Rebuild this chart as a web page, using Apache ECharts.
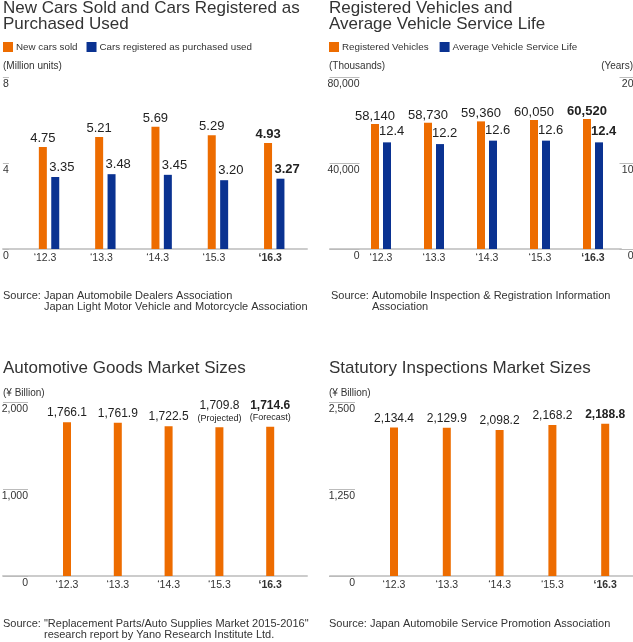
<!DOCTYPE html>
<html>
<head>
<meta charset="utf-8">
<script src="https://cdn.jsdelivr.net/npm/echarts@6/dist/echarts.min.js"></script>
<style>html,body{margin:0;padding:0;background:#fff}#c{width:633px;height:642px}</style>
</head>
<body>
<div id="c"></div>
<script>
// ---- data ----
const categories = ['\u201812.3', '\u201813.3', '\u201814.3', '\u201815.3', '\u201816.3'];
const newCarsSold = [4.75, 5.21, 5.69, 5.29, 4.93];
const usedRegistered = [3.35, 3.48, 3.45, 3.20, 3.27];
const registeredVehicles = [58140, 58730, 59360, 60050, 60520];
const serviceLife = [12.4, 12.2, 12.6, 12.6, 12.4];
const goodsMarket = [1766.1, 1761.9, 1722.5, 1709.8, 1714.6];
const goodsNotes = ['', '', '', '(Projected)', '(Forecast)'];
const inspectionMarket = [2134.4, 2129.9, 2098.2, 2168.2, 2188.8];
const axis1 = {max: 8, interval: 4};
const axis2L = {max: 80000, interval: 40000};
const axis2R = {max: 20, interval: 10};
const axis3 = {max: 2000, interval: 1000};
const axis4 = {max: 2500, interval: 1250};

// ---- style ----
const FONT = '"Liberation Sans", Arial, Helvetica, sans-serif';
const ORANGE = '#ED6C00';
const BLUE = '#0A3291';
const TXT = '#333';
const LBL = '#222';
const boldLast = 4;

function fmt(v, d) {
  return v.toLocaleString('en-US', {minimumFractionDigits: d, maximumFractionDigits: d});
}
function withBold(arr) {
  return arr.map((v, i) => i === boldLast ? {value: v, label: {fontWeight: 'bold'}} : v);
}
function catData() {
  return categories.map((c, i) => i === boldLast ? {value: c, textStyle: {fontWeight: 'bold'}} : c);
}

const chart = echarts.init(document.getElementById('c'), null, {renderer: 'canvas'});

function title(text, pos, fs, lh) {
  return Object.assign({
    text: text, padding: 0, itemGap: 0,
    textStyle: {fontSize: fs, fontFamily: FONT, fontWeight: 'normal', color: TXT, lineHeight: lh}
  }, pos);
}
function sourceTitle(l1, l2, pos) {
  return Object.assign({
    text: '{a|Source: ' + l1 + '}\n{h|Source: }{a|' + l2 + '}', padding: 0,
    textStyle: {
      fontWeight: 'normal',
      rich: {
        a: {fontSize: 11, fontFamily: FONT, fontWeight: 'normal', color: TXT, lineHeight: 11.5},
        h: {fontSize: 11, fontFamily: FONT, fontWeight: 'normal', color: 'rgba(0,0,0,0)', lineHeight: 11.5}
      }
    }
  }, pos);
}

const catAxis = (gi, extra) => Object.assign({
  type: 'category', gridIndex: gi, data: catData(),
  axisLine: {show: false}, axisTick: {show: false},
  axisLabel: {margin: 4, fontSize: 10.5, fontFamily: FONT, color: TXT}
}, extra || {});

const valAxis = (gi, cfg, pos, offset, tickLen, margin, formatter) => ({
  type: 'value', gridIndex: gi, min: 0, max: cfg.max, interval: cfg.interval,
  position: pos, offset: offset,
  axisLine: {show: false},
  axisTick: {show: true, length: tickLen, lineStyle: {color: '#bbb', width: 1}},
  splitLine: {show: false},
  axisLabel: {
    margin: margin, align: 'right', verticalAlign: 'top', padding: [2, 0, 0, 0],
    fontSize: 10.5, fontFamily: FONT, color: TXT, formatter: formatter
  }
});

const baseX = (gi) => ({
  type: 'category', gridIndex: gi, data: [''],
  axisLine: {show: true, lineStyle: {color: '#ccc', width: 2}},
  axisTick: {show: false}, axisLabel: {show: false}
});
const baseY = (gi) => ({type: 'value', gridIndex: gi, show: false, min: 0, max: 1});

const valLabel = (fs, dist, extra) => Object.assign({
  show: true, position: 'top', distance: dist,
  fontSize: fs, fontFamily: FONT, color: LBL
}, extra || {});

const grid = (l, t, w, h) => ({left: l, top: t, width: w, height: h, containLabel: false, outerBoundsMode: 'none'});

const option = {
  animation: false,
  backgroundColor: '#fff',
  title: [
    title('New Cars Sold and Cars Registered as\nPurchased Used', {left: 3, top: 0}, 17, 16.5),
    title('Registered Vehicles and\nAverage Vehicle Service Life', {left: 329, top: 0}, 17, 16.5),
    title('Automotive Goods Market Sizes', {left: 3, top: 360}, 17, 16.5),
    title('Statutory Inspections Market Sizes', {left: 329, top: 360}, 17, 16.5),
    title('(Million units)', {left: 3, top: 60}, 10, 12),
    title('(Thousands)', {left: 329, top: 60}, 10, 12),
    title('(Years)', {right: 0, top: 60}, 10, 12),
    title('(\u00a5 Billion)', {left: 3, top: 387}, 10, 12),
    title('(\u00a5 Billion)', {left: 329, top: 387}, 10, 12),
    sourceTitle('Japan Automobile Dealers Association', 'Japan Light Motor Vehicle and Motorcycle Association', {left: 3, top: 290}),
    sourceTitle('Automobile Inspection & Registration Information', 'Association', {left: 331, top: 290}),
    sourceTitle('"Replacement Parts/Auto Supplies Market 2015-2016"', 'research report by Yano Research Institute Ltd.', {left: 3, top: 618}),
    title('Source: Japan Automobile Service Promotion Association', {left: 329, top: 618}, 11, 11.5)
  ],
  legend: [
    {data: ['New cars sold', 'Cars registered as purchased used'], left: 3, top: 42, padding: 0,
     itemWidth: 10, itemHeight: 10, itemGap: 9, icon: 'rect', selectedMode: false,
     textStyle: {fontSize: 9.8, fontFamily: FONT, color: TXT, padding: [0, 0, 0, -2]}},
    {data: ['Registered Vehicles', 'Average Vehicle Service Life'], left: 329, top: 42, padding: 0,
     itemWidth: 10, itemHeight: 10, itemGap: 11, icon: 'rect', selectedMode: false,
     textStyle: {fontSize: 9.8, fontFamily: FONT, color: TXT, padding: [0, 0, 0, -2]}}
  ],
  grid: [
    grid(20.9, 77, 281.5, 172),
    grid(354.5, 77, 265, 172),
    grid(41.6, 402, 254, 174),
    grid(367.6, 402, 264, 174),
    grid(3, 229, 304, 20),
    grid(330, 229, 291, 20),
    grid(3, 556, 304, 20),
    grid(330, 556, 303, 20)
  ],
  xAxis: [
    catAxis(0, {axisLabel: {margin: 4, fontSize: 10.5, fontFamily: FONT, color: TXT, padding: [0, 8, 0, 0]}}),
    catAxis(1),
    catAxis(2),
    catAxis(3),
    baseX(4), baseX(5), baseX(6), baseX(7)
  ],
  yAxis: [
    valAxis(0, axis1, 'left', 12, 6, 0, v => String(v)),
    valAxis(1, axis2L, 'left', -5, 30, 0, v => fmt(v, 0)),
    valAxis(1, axis2R, 'right', 0, 14, 14, v => String(v)),
    valAxis(2, axis3, 'left', 13.6, 25, 0, v => fmt(v, 0)),
    valAxis(3, axis4, 'left', 12.6, 26, 0, v => fmt(v, 0)),
    baseY(4), baseY(5), baseY(6), baseY(7)
  ],
  series: [
    {type: 'bar', name: 'New cars sold', xAxisIndex: 0, yAxisIndex: 0, data: withBold(newCarsSold),
     barWidth: 8, barGap: '55%', itemStyle: {color: ORANGE}, silent: true,
     label: valLabel(13, 2, {formatter: p => fmt(p.value, 2)})},
    {type: 'bar', name: 'Cars registered as purchased used', xAxisIndex: 0, yAxisIndex: 0, data: withBold(usedRegistered),
     barWidth: 8, barGap: '55%', itemStyle: {color: BLUE}, silent: true,
     label: valLabel(13, 3, {align: 'left', offset: [-6, 0], formatter: p => fmt(p.value, 2)})},
    {type: 'bar', name: 'Registered Vehicles', xAxisIndex: 1, yAxisIndex: 1, data: withBold(registeredVehicles),
     barWidth: 8, barGap: '50%', itemStyle: {color: ORANGE}, silent: true,
     label: valLabel(13, 1, {formatter: p => fmt(p.value, 0)})},
    {type: 'bar', name: 'Average Vehicle Service Life', xAxisIndex: 1, yAxisIndex: 2, data: withBold(serviceLife),
     barWidth: 8, barGap: '50%', itemStyle: {color: BLUE}, silent: true,
     label: valLabel(13, 4, {align: 'left', offset: [-8, 0], formatter: p => fmt(p.value, 1)})},
    {type: 'bar', name: 'Automotive Goods', xAxisIndex: 2, yAxisIndex: 3, data: goodsMarket,
     barWidth: 8, itemStyle: {color: ORANGE}, silent: true,
     label: {show: true, position: 'top', distance: 3,
       formatter: p => {
         const k = p.dataIndex === boldLast ? 'vb' : 'v';
         const note = goodsNotes[p.dataIndex];
         return '{' + k + '|' + fmt(p.value, 1) + '}' + (note ? '\n{n|' + note + '}' : '');
       },
       rich: {
         v: {fontSize: 12, fontFamily: FONT, color: LBL, lineHeight: 13},
         vb: {fontSize: 12, fontFamily: FONT, color: LBL, fontWeight: 'bold', lineHeight: 13},
         n: {fontSize: 9, fontFamily: FONT, color: LBL, lineHeight: 12}
       }}},
    {type: 'bar', name: 'Statutory Inspections', xAxisIndex: 3, yAxisIndex: 4, data: withBold(inspectionMarket),
     barWidth: 8, itemStyle: {color: ORANGE}, silent: true,
     label: valLabel(12, 3, {formatter: p => fmt(p.value, 1)})}
  ]
};
chart.setOption(option);
</script>
</body>
</html>
